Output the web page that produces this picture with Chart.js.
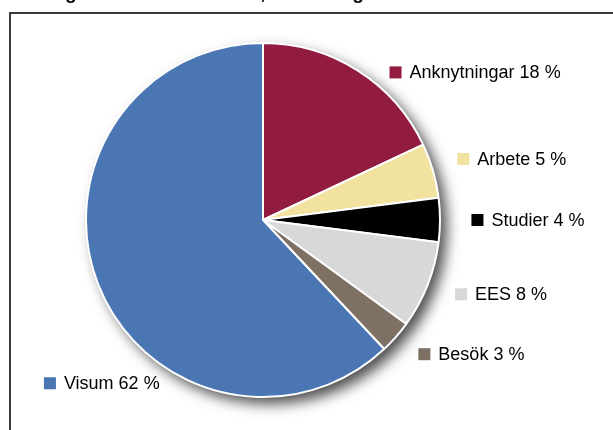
<!DOCTYPE html>
<html>
<head>
<meta charset="utf-8">
<script src="https://cdn.jsdelivr.net/npm/chart.js@4/dist/chart.umd.min.js"></script>
<style>
  html, body { margin: 0; padding: 0; background: #ffffff; }
  #wrap { position: relative; width: 613px; height: 430px; overflow: hidden; }
  canvas { display: block; }
</style>
</head>
<body>
<div id="wrap"><canvas id="c" width="613" height="430"></canvas></div>
<script>
// ---- data ----
const titleText = "Samtliga beslut om tillstånd, fördelning 2008";
const categories = ["Anknytningar", "Arbete", "Studier", "EES", "Besök", "Visum"];
const values = [18, 5, 4, 8, 3, 62];
const colors = ["#921C3F", "#F2E2A0", "#000000", "#D8D8D8", "#7E7063", "#4A77B3"];

// label placement tweaks (pixels, relative to radial anchor)
const labelNudge = [[17, 25], [-2, -4], [4, 0], [2, -1], [2, -1], [-29, 88]];

const framePlugin = {
  id: 'frame',
  beforeDraw(chart) {
    const ctx = chart.ctx;
    ctx.save();
    ctx.fillStyle = '#ffffff';
    ctx.fillRect(0, 0, chart.width, chart.height);
    ctx.strokeStyle = '#3a3a3a';
    ctx.lineWidth = 2;
    ctx.strokeRect(10, 13, 800, 600);
    ctx.fillStyle = '#000000';
    ctx.font = 'bold 19px "Liberation Sans", Arial, sans-serif';
    ctx.textBaseline = 'alphabetic';
    ctx.textAlign = 'left';
    ctx.fillText(titleText, 8, -1);
    ctx.restore();
  }
};

const shadowPlugin = {
  id: 'pieShadow',
  beforeDatasetsDraw(chart) {
    const meta = chart.getDatasetMeta(0);
    if (!meta.data.length) return;
    const a = meta.data[0];
    const ctx = chart.ctx;
    ctx.save();
    ctx.shadowColor = 'rgba(0,0,0,0.7)';
    ctx.shadowBlur = 14;
    ctx.shadowOffsetX = 7;
    ctx.shadowOffsetY = 7;
    ctx.fillStyle = '#ffffff';
    ctx.beginPath();
    ctx.arc(a.x, a.y, a.outerRadius, 0, Math.PI * 2);
    ctx.fill();
    ctx.restore();
  }
};

const labelPlugin = {
  id: 'sliceLabels',
  afterDatasetsDraw(chart) {
    const meta = chart.getDatasetMeta(0);
    const ctx = chart.ctx;
    ctx.save();
    ctx.font = '18px "Liberation Sans", Arial, sans-serif';
    ctx.textBaseline = 'middle';
    ctx.textAlign = 'left';
    meta.data.forEach((arc, i) => {
      const mid = (arc.startAngle + arc.endAngle) / 2;
      const r = arc.outerRadius * 1.155;
      const px = arc.x + Math.cos(mid) * r + labelNudge[i][0];
      const py = arc.y + Math.sin(mid) * r + labelNudge[i][1];
      const sq = 12;
      ctx.fillStyle = colors[i];
      ctx.fillRect(px, py - sq / 2, sq, sq);
      ctx.fillStyle = '#000000';
      ctx.fillText(categories[i] + ' ' + values[i] + ' %', px + sq + 8, py + 1);
    });
    ctx.restore();
  }
};

new Chart(document.getElementById('c'), {
  type: 'pie',
  data: {
    labels: categories,
    datasets: [{
      data: values,
      backgroundColor: colors,
      borderColor: '#ffffff',
      borderWidth: 2
    }]
  },
  options: {
    responsive: false,
    animation: false,
    layout: { padding: { left: 85, right: 172, top: 42, bottom: 32 } },
    plugins: {
      legend: { display: false },
      tooltip: { enabled: false },
      title: { display: false }
    }
  },
  plugins: [framePlugin, shadowPlugin, labelPlugin]
});
</script>
</body>
</html>
